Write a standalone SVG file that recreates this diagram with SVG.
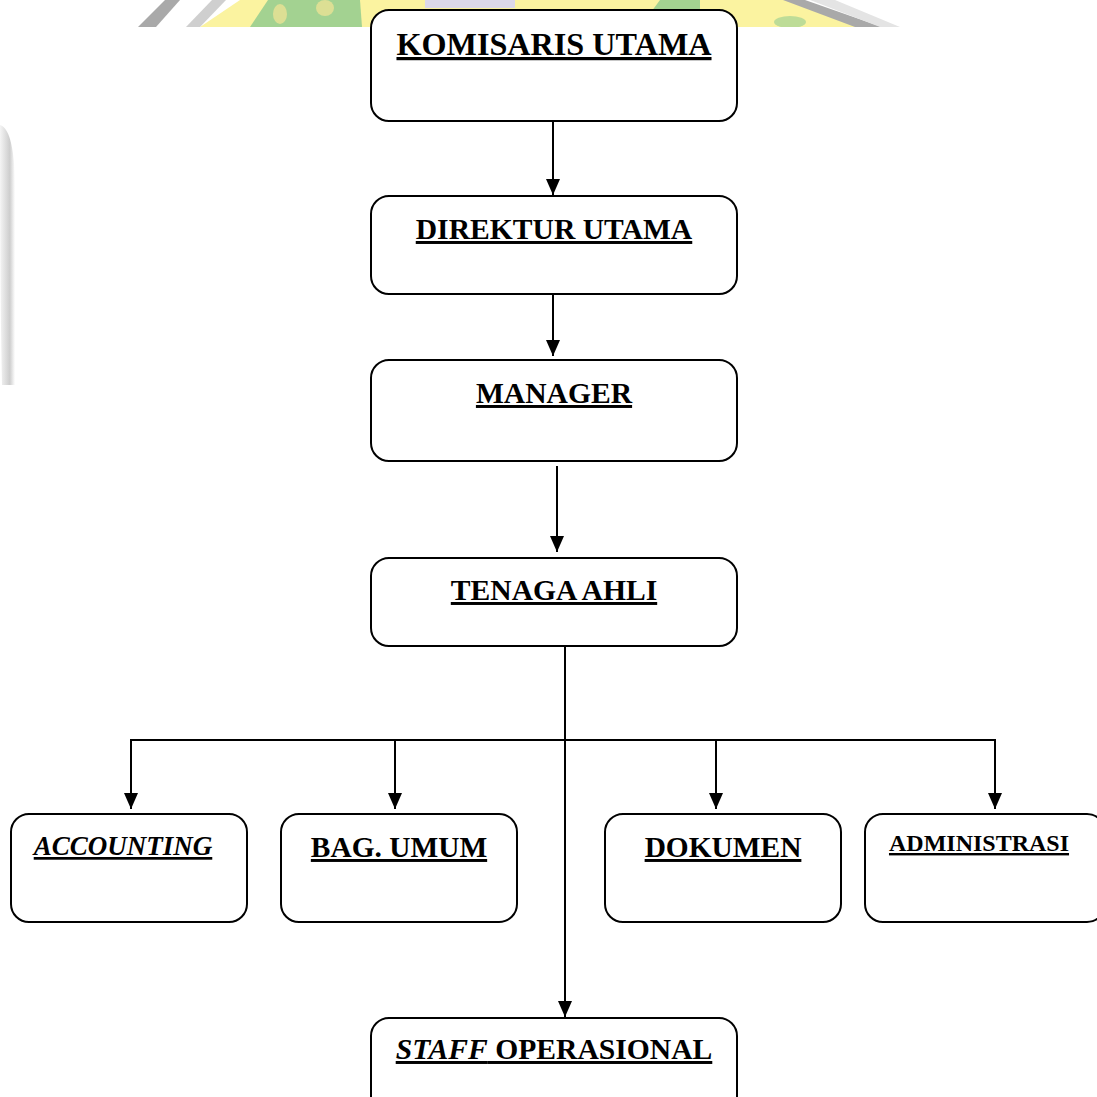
<svg xmlns="http://www.w3.org/2000/svg" width="1097" height="1097" viewBox="0 0 1097 1097">
<style>
.box{fill:#fff;stroke:#000;stroke-width:2}
.lbl{font-family:"Liberation Serif","Times New Roman",serif;font-weight:bold;fill:#000;text-anchor:middle;text-decoration:underline}
.it{font-style:italic}
.con{stroke:#000;stroke-width:2;fill:none}
</style>
<defs>
<marker id="arr" viewBox="0 0 16 14" refX="16" refY="7" markerWidth="16" markerHeight="14" markerUnits="userSpaceOnUse" orient="auto">
<path d="M0,0 L16,7 L0,14 z" fill="#000"/>
</marker>
<linearGradient id="lg" x1="0" y1="0" x2="1" y2="0">
<stop offset="0" stop-color="#f0f0f0"/>
<stop offset="0.65" stop-color="#b8b8b8"/>
<stop offset="1" stop-color="#ffffff"/>
</linearGradient>
<clipPath id="topclip"><rect x="0" y="0" width="1097" height="27"/></clipPath>
</defs>
<rect x="0" y="0" width="1097" height="1097" fill="#fff"/>
<g id="watermark">
<g clip-path="url(#topclip)">
<polygon points="200,27 240,0 800,0 880,27" fill="#fbf3a0"/>
<polygon points="138,27 156,27 180,0 165,0" fill="#a9a9a9"/>
<polygon points="186,27 200,27 226,0 212,0" fill="#cfcfcf"/>
<polygon points="250,27 268,0 360,0 362,27" fill="#a3d291"/>
<ellipse cx="280" cy="14" rx="7" ry="10" fill="#dcdf94"/>
<ellipse cx="325" cy="8" rx="9" ry="8" fill="#dcdf94"/>
<polygon points="425,0 515,0 515,8 425,8" fill="#dcd8ea"/>
<polygon points="640,27 660,0 700,0 700,27" fill="#a3d291"/>
<ellipse cx="790" cy="22" rx="16" ry="6" fill="#bddc97"/>
<polygon points="783,0 805,0 882,27 855,27" fill="#a9a9a9"/>
<polygon points="810,0 835,0 900,27 880,27" fill="#e4e4e4"/>
</g>
<path d="M0,125 Q16,130 15,200 L15,385 L2,385 Q0,300 0,125 z" fill="url(#lg)" opacity="0.7"/>
</g>
<g id="connectors">
<line class="con" x1="553" y1="121" x2="553" y2="195" marker-end="url(#arr)"/>
<line class="con" x1="553" y1="294" x2="553" y2="356" marker-end="url(#arr)"/>
<line class="con" x1="557" y1="466" x2="557" y2="552" marker-end="url(#arr)"/>
<line class="con" x1="565" y1="646" x2="565" y2="1017" marker-end="url(#arr)"/>
<line class="con" x1="130" y1="740" x2="996" y2="740"/>
<line class="con" x1="131" y1="740" x2="131" y2="809" marker-end="url(#arr)"/>
<line class="con" x1="395" y1="740" x2="395" y2="809" marker-end="url(#arr)"/>
<line class="con" x1="716" y1="740" x2="716" y2="809" marker-end="url(#arr)"/>
<line class="con" x1="995" y1="740" x2="995" y2="809" marker-end="url(#arr)"/>
</g>
<g id="komisaris">
<rect class="box" x="371" y="10" width="366" height="111" rx="18"/>
<text class="lbl" x="554" y="55" font-size="32.2">KOMISARIS UTAMA</text>
</g>
<g id="direktur">
<rect class="box" x="371" y="196" width="366" height="98" rx="18"/>
<text class="lbl" x="554" y="239" font-size="29.6">DIREKTUR UTAMA</text>
</g>
<g id="manager">
<rect class="box" x="371" y="360" width="366" height="101" rx="18"/>
<text class="lbl" x="554" y="403" font-size="29.6">MANAGER</text>
</g>
<g id="tenaga">
<rect class="box" x="371" y="558" width="366" height="88" rx="18"/>
<text class="lbl" x="554" y="600" font-size="29.6">TENAGA AHLI</text>
</g>
<g id="accounting">
<rect class="box" x="11" y="814" width="236" height="108" rx="18"/>
<text class="lbl it" x="123" y="855" font-size="27">ACCOUNTING</text>
</g>
<g id="bagumum">
<rect class="box" x="281" y="814" width="236" height="108" rx="18"/>
<text class="lbl" x="399" y="857" font-size="29.4">BAG. UMUM</text>
</g>
<g id="dokumen">
<rect class="box" x="605" y="814" width="236" height="108" rx="18"/>
<text class="lbl" x="723" y="857" font-size="29.4">DOKUMEN</text>
</g>
<g id="administrasi">
<rect class="box" x="865" y="814" width="240" height="108" rx="18"/>
<text class="lbl" x="979" y="851" font-size="24">ADMINISTRASI</text>
</g>
<g id="staff">
<rect class="box" x="371" y="1018" width="366" height="100" rx="18"/>
<text class="lbl" x="554" y="1059" font-size="29.6"><tspan class="it">STAFF</tspan> OPERASIONAL</text>
</g>
</svg>
